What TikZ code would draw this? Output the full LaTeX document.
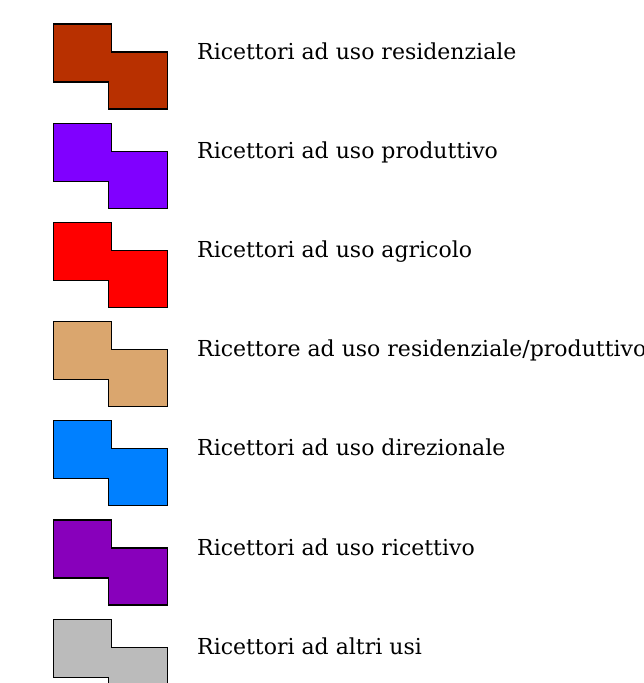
\documentclass[tikz,border=0pt]{standalone}
\usepackage{fontspec}
\setmainfont{DejaVu Serif}
\definecolor{resid}{RGB}{184,48,0}
\definecolor{produt}{RGB}{128,0,255}
\definecolor{agric}{RGB}{255,0,0}
\definecolor{resprod}{RGB}{218,166,110}
\definecolor{direz}{RGB}{0,128,255}
\definecolor{ricett}{RGB}{136,0,187}
\definecolor{altri}{RGB}{187,187,187}
\tikzset{
  legshape/.style={draw=black,line width=1.2pt,line join=miter},
  leglabel/.style={anchor=base west,inner sep=0pt,font=\fontsize{22}{26}\selectfont}
}
\begin{document}
\begin{tikzpicture}[x=1pt,y=-1pt]
                \useasboundingbox (0,0) rectangle (644,683);
                \clip (0,0) rectangle (644,683);
                %% legend rows
                \foreach \col/\txt [count=\i from 0] in {resid/{Ricettori ad uso residenziale},
                    produt/{Ricettori ad uso produttivo},
                    agric/{Ricettori ad uso agricolo},
                    resprod/{Ricettore ad uso residenziale/produttivo},
                    direz/{Ricettori ad uso direzionale},
                    ricett/{Ricettori ad uso ricettivo},
                    altri/{Ricettori ad altri usi}}{
                  \begin{scope}[shift={(53.5,24+99.2*\i)}]
                    %% step shape
                    \draw[legshape,fill=\col] (0,0) -- (58,0) -- (58,28) -- (114,28)
                      -- (114,85) -- (55,85) -- (55,58) -- (0,58) -- cycle;
                    %% label
                    \node[leglabel] (lab\i) at (143.5,35) {\txt};
                  \end{scope}
                }
\end{tikzpicture}
\end{document}
